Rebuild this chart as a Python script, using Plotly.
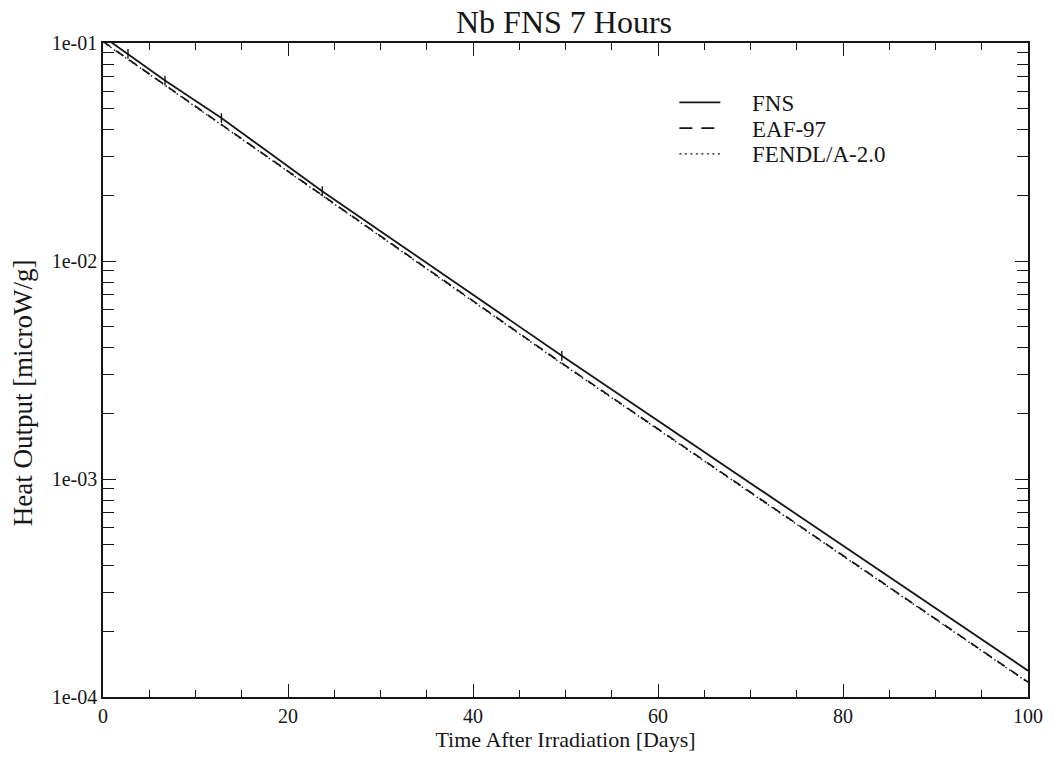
import plotly.graph_objects as go

# Data
fns_t = [0, 2.7, 6.7, 12.8, 23.7, 49.6, 100]
fns_v = [0.1072, 0.0892, 0.0673, 0.0453, 0.0209, 0.00368, 1.32e-4]
fns_err = [0.0, 0.0046, 0.0035, 0.0023, 0.0011, 0.00019, 0.0]

eaf_t = [0, 49.6, 100]
eaf_v = [0.1016, 0.00340, 1.17e-4]

fendl_t = [0, 49.6, 100]
fendl_v = [0.1012, 0.00338, 1.165e-4]

err_t = fns_t[1:6]
err_v = fns_v[1:6]
err_e = fns_err[1:6]

y_tickvals = [1e-4, 1e-3, 1e-2, 1e-1]
y_ticktext = ["1e-04", "1e-03", "1e-02", "1e-01"]
x_tickvals = [0, 20, 40, 60, 80, 100]

legend_names = ["FNS", "EAF-97", "FENDL/A-2.0"]
legend_dash = ["solid", "13px,9px", "2px,3.5px"]
legend_width = [1.6, 1.6, 1.2]

FONT = "Liberation Serif, Times New Roman, serif"
INK = "#161616"

# plot area in pixels (for converting legend placement to paper units)
L, R, T, B = 103, 1029, 43, 704
W, H = 1055, 757


def px(x):
    return (x - L) / (R - L)


def py(y):
    return (B - y) / (B - T)


fig = go.Figure()
fig.add_trace(go.Scatter(x=fns_t, y=fns_v, mode="lines", name=legend_names[0],
                         line=dict(color=INK, width=1.8)))
fig.add_trace(go.Scatter(x=err_t, y=err_v, mode="markers", showlegend=False,
                         marker=dict(size=0.1, color=INK),
                         error_y=dict(type="data", array=err_e, color=INK,
                                      thickness=1.4, width=0)))
fig.add_trace(go.Scatter(x=eaf_t, y=eaf_v, mode="lines", name=legend_names[1],
                         line=dict(color=INK, width=1.7, dash="9px,7px")))
fig.add_trace(go.Scatter(x=fendl_t, y=fendl_v, mode="lines", name=legend_names[2],
                         line=dict(color=INK, width=1.4, dash="1.5px,3px")))

# manual legend (line samples + labels)
legend_rows_y = [103, 129, 155]
for name, dash, lw, yrow in zip(legend_names, legend_dash, legend_width, legend_rows_y):
    fig.add_shape(type="line", xref="paper", yref="paper",
                  x0=px(680), x1=px(721), y0=py(yrow), y1=py(yrow),
                  line=dict(color=INK, width=lw, dash=dash))
    fig.add_annotation(text=name, xref="paper", yref="paper", x=px(751), y=py(yrow + 1),
                       xanchor="left", yanchor="middle", showarrow=False,
                       font=dict(family=FONT, size=23, color=INK))

# y-axis title placed as in the reference (slightly below the plot centre)
fig.add_annotation(text="Heat Output [microW/g]", xref="paper", yref="paper",
                   x=px(23), y=py(397), xanchor="center", yanchor="middle",
                   textangle=-90, showarrow=False,
                   font=dict(family=FONT, size=27, color=INK))

axis_common = dict(showgrid=False, zeroline=False, showline=True, linecolor=INK,
                   linewidth=1.6, mirror="ticks", ticks="inside", tickcolor=INK,
                   tickwidth=1.4, ticklen=13,
                   tickfont=dict(family=FONT, size=20, color=INK))

fig.update_layout(
    width=W, height=H,
    margin=dict(l=L, r=W - R, t=T, b=H - B),
    paper_bgcolor="white", plot_bgcolor="white",
    font=dict(family=FONT, color=INK),
    title=dict(text="Nb FNS 7 Hours", x=(564) / W, xanchor="center", y=1 - 22 / H,
               yanchor="middle", font=dict(family=FONT, size=32, color=INK)),
    xaxis=dict(range=[0, 100], tickmode="array", tickvals=x_tickvals,
               title=dict(text="Time After Irradiation [Days]", standoff=3,
                          font=dict(family=FONT, size=22, color=INK)),
               minor=dict(dtick=5, ticks="inside", ticklen=7, tickcolor=INK, tickwidth=1.3),
               **axis_common),
    yaxis=dict(type="log", range=[-4, -1], tickmode="array", tickvals=y_tickvals,
               ticktext=y_ticktext,
               minor=dict(dtick="D1", ticks="inside", ticklen=11, tickcolor=INK, tickwidth=1.3),
               **axis_common),
    showlegend=False,
)

fig.write_html("out.html")
